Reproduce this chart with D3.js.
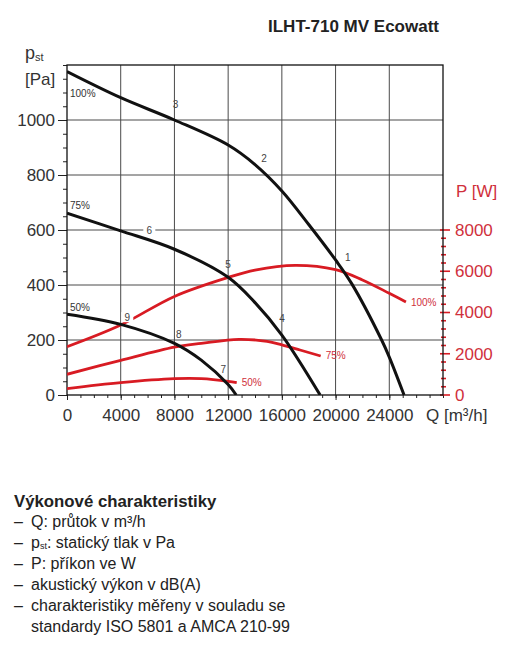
<!DOCTYPE html>
<html>
<head>
<meta charset="utf-8">
<script src="https://cdn.jsdelivr.net/npm/d3@7"></script>
<style>
  body { margin: 0; background: #fff; }
  svg { font-family: "Liberation Sans", Arial, sans-serif; }
</style>
</head>
<body>
<div id="chart"></div>
<script>
// --- data ---
var qTicks = [0, 4000, 8000, 12000, 16000, 20000, 24000];
var pTicks = [0, 200, 400, 600, 800, 1000];
var wTicks = [0, 2000, 4000, 6000, 8000];

// static pressure curves [Pa] vs flow [m3/h]
var q100 = [0, 4000, 8000, 12000, 14000, 16000, 18000, 20000, 21200, 23430, 24000, 25100];
var p100 = [1176, 1081, 1000, 909, 838, 742, 620, 491, 405, 200, 138, 0];
var q75 = [0, 4000, 8000, 12000, 14000, 16000, 18850];
var p75 = [661, 597, 530, 428, 336, 218, 0];
var q50 = [0, 4000, 8000, 10000, 12000, 12600];
var p50 = [294, 257, 188, 127, 38, 0];

// power input curves [W]
var qW100 = [0, 4000, 8000, 12000, 14000, 17000, 20000, 22000, 24000, 25240];
var w100 = [2342, 3394, 4780, 5700, 6060, 6288, 6080, 5580, 4930, 4509];
var qW75 = [0, 4000, 8000, 10000, 12800, 14900, 16000, 17350, 18890];
var w75 = [1003, 1681, 2320, 2500, 2700, 2600, 2430, 2182, 1891];
var qW50 = [0, 4000, 8000, 10000, 12000, 12640];
var w50 = [307, 598, 790, 792, 665, 598];

// operating point labels (Q, p)
var pointNames = ["1", "2", "3", "4", "5", "6", "7", "8", "9"];
var pointQ = [20900, 14670, 8080, 16010, 11990, 6130, 11640, 8320, 4490];
var pointP = [499, 860, 1055, 279, 473, 600, 93, 221, 283];

var W = 522, H = 648;
var mLeft = 67, mTop = 65, pw = 376, ph = 330;
var red = "#d81b23", redText = "#d0303c";

var svg = d3.select("#chart").append("svg")
  .attr("width", W).attr("height", H);

var x = d3.scaleLinear().domain([0, 28000]).range([mLeft, mLeft + pw]);
var y = d3.scaleLinear().domain([0, 1200]).range([mTop + ph, mTop]);
var yW = d3.scaleLinear().domain([0, 16000]).range([mTop + ph, mTop]);

// gridlines
svg.append("g").selectAll("line").data(qTicks.slice(1)).enter().append("line")
  .attr("x1", d => x(d)).attr("x2", d => x(d))
  .attr("y1", mTop).attr("y2", mTop + ph)
  .attr("stroke", "#4a4a4a").attr("stroke-width", 1);
svg.append("g").selectAll("line").data(pTicks.slice(1)).enter().append("line")
  .attr("x1", mLeft).attr("x2", mLeft + pw)
  .attr("y1", d => y(d)).attr("y2", d => y(d))
  .attr("stroke", "#4a4a4a").attr("stroke-width", 1);

// left axis: minor + major
svg.append("g").attr("transform", "translate(" + mLeft + ",0)")
  .call(d3.axisLeft(y).tickValues(d3.range(0, 1201, 50)).tickSize(4).tickFormat(""))
  .call(g => g.select(".domain").remove())
  .call(g => g.selectAll("line").attr("stroke", "#222"));
svg.append("g").attr("transform", "translate(" + mLeft + ",0)")
  .call(d3.axisLeft(y).tickValues(pTicks).tickSize(9).tickPadding(3).tickFormat(d3.format("d")))
  .call(g => g.select(".domain").remove())
  .call(g => g.selectAll("line").attr("stroke", "#222"))
  .call(g => g.selectAll("text").attr("font-size", 17).attr("fill", "#333")
    .attr("font-family", "Liberation Sans, Arial, sans-serif"));

// bottom axis: minor + major
svg.append("g").attr("transform", "translate(0," + (mTop + ph) + ")")
  .call(d3.axisBottom(x).tickValues(d3.range(0, 28001, 1000)).tickSize(3).tickFormat(""))
  .call(g => g.select(".domain").remove())
  .call(g => g.selectAll("line").attr("stroke", "#222"));
svg.append("g").attr("transform", "translate(0," + (mTop + ph) + ")")
  .call(d3.axisBottom(x).tickValues(qTicks).tickSize(5).tickPadding(9).tickFormat(d3.format("d")))
  .call(g => g.select(".domain").remove())
  .call(g => g.selectAll("line").attr("stroke", "#222"))
  .call(g => g.selectAll("text").attr("font-size", 17).attr("fill", "#333")
    .attr("font-family", "Liberation Sans, Arial, sans-serif"));

// right red axis (ticks cross the frame)
var wMinor = d3.range(0, 8001, 400);
svg.append("g").selectAll("line").data(wMinor).enter().append("line")
  .attr("x1", d => wTicks.indexOf(d) >= 0 ? mLeft + pw - 3 : mLeft + pw - 2)
  .attr("x2", d => wTicks.indexOf(d) >= 0 ? mLeft + pw + 7 : mLeft + pw + 3)
  .attr("y1", d => yW(d)).attr("y2", d => yW(d))
  .attr("stroke", red).attr("stroke-width", 1.6);
svg.append("g").selectAll("text").data(wTicks).enter().append("text")
  .attr("x", mLeft + pw + 12).attr("y", d => yW(d)).attr("dy", "0.35em")
  .attr("font-size", 17).attr("fill", redText).text(d => d);

// frame
svg.append("rect").attr("x", mLeft).attr("y", mTop)
  .attr("width", pw).attr("height", ph)
  .attr("fill", "none").attr("stroke", "#111").attr("stroke-width", 1.3);

svg.append("defs").append("clipPath").attr("id", "plot")
  .append("rect").attr("x", mLeft).attr("y", mTop).attr("width", pw).attr("height", ph);

var plot = svg.append("g").attr("clip-path", "url(#plot)");

function drawCurve(qs, vs, scale, color, w) {
  var line = d3.line().x(d => x(d[0])).y(d => scale(d[1])).curve(d3.curveCatmullRom.alpha(0.5));
  plot.append("path").datum(d3.zip(qs, vs)).attr("d", line)
    .attr("fill", "none").attr("stroke", color).attr("stroke-width", w)
    .attr("stroke-linecap", "butt");
}

drawCurve(qW100, w100, yW, red, 2.8);
drawCurve(qW75, w75, yW, red, 2.8);
drawCurve(qW50, w50, yW, red, 2.8);
drawCurve(q100, p100, y, "#111", 3);
drawCurve(q75, p75, y, "#111", 3);
drawCurve(q50, p50, y, "#111", 3);

// operating point labels; 6 and 9 sit on lines and get a white patch
var pts = svg.append("g");
pointNames.forEach(function(n, i) {
  var px = x(pointQ[i]), py = y(pointP[i]);
  if (n === "6" || n === "9") {
    pts.append("rect").attr("x", px - 6).attr("y", py - 5)
      .attr("width", 12).attr("height", 10).attr("fill", "#fff");
  }
  pts.append("text").attr("x", px).attr("y", py).attr("dy", "0.35em")
    .attr("text-anchor", "middle").attr("font-size", 10).attr("fill", "#444").text(n);
});

// speed labels on pressure curves
var pctNames = ["100%", "75%", "50%"];
var pctP = [1084, 676, 305];
pctNames.forEach(function(n, i) {
  svg.append("text").attr("x", x(220)).attr("y", y(pctP[i]))
    .attr("font-size", 10).attr("fill", "#333").text(n);
});
// speed labels at the ends of the power curves
[[qW100, w100], [qW75, w75], [qW50, w50]].forEach(function(c, i) {
  var lq = c[0][c[0].length - 1], lw = c[1][c[1].length - 1];
  svg.append("text").attr("x", x(lq) + 5).attr("y", yW(lw)).attr("dy", "0.35em")
    .attr("font-size", 10).attr("fill", redText).text(pctNames[i]);
});

// titles
svg.append("text").attr("x", 268).attr("y", 32)
  .attr("font-size", 17).attr("font-weight", "bold").attr("fill", "#222")
  .text("ILHT-710 MV Ecowatt");

var pst = svg.append("text").attr("x", 25).attr("y", 59).attr("font-size", 18).attr("fill", "#333");
pst.append("tspan").text("p");
pst.append("tspan").attr("font-size", 11).attr("dy", 2).text("st");
svg.append("text").attr("x", 25).attr("y", 85).attr("font-size", 17).attr("fill", "#333").text("[Pa]");

svg.append("text").attr("x", 456).attr("y", 197).attr("font-size", 17).attr("fill", redText).text("P [W]");
svg.append("text").attr("x", 426).attr("y", 421).attr("font-size", 17).attr("fill", "#333").text("Q [m³/h]");

// description block
var notes = svg.append("g").attr("fill", "#222");
notes.append("text").attr("x", 14).attr("y", 507).attr("font-size", 16.8).attr("font-weight", "bold")
  .text("Výkonové charakteristiky");
var noteLines = [
  ["Q: průtok v m³/h"],
  ["p", "st", ": statický tlak v Pa"],
  ["P: příkon ve W"],
  ["akustický výkon v dB(A)"],
  ["charakteristiky měřeny v souladu se"],
  ["standardy ISO 5801 a AMCA 210-99"]
];
noteLines.forEach(function(l, i) {
  var by = 527 + i * 21;
  if (i < 5) {
    notes.append("text").attr("x", 14).attr("y", by).attr("font-size", 16).text("–");
  }
  var t = notes.append("text").attr("x", 31).attr("y", by).attr("font-size", 16);
  if (l.length === 3) {
    t.append("tspan").text(l[0]);
    t.append("tspan").attr("font-size", 9).attr("dy", 1).text(l[1]);
    t.append("tspan").attr("dy", -1).text(l[2]);
  } else {
    t.text(l[0]);
  }
});
</script>
</body>
</html>
